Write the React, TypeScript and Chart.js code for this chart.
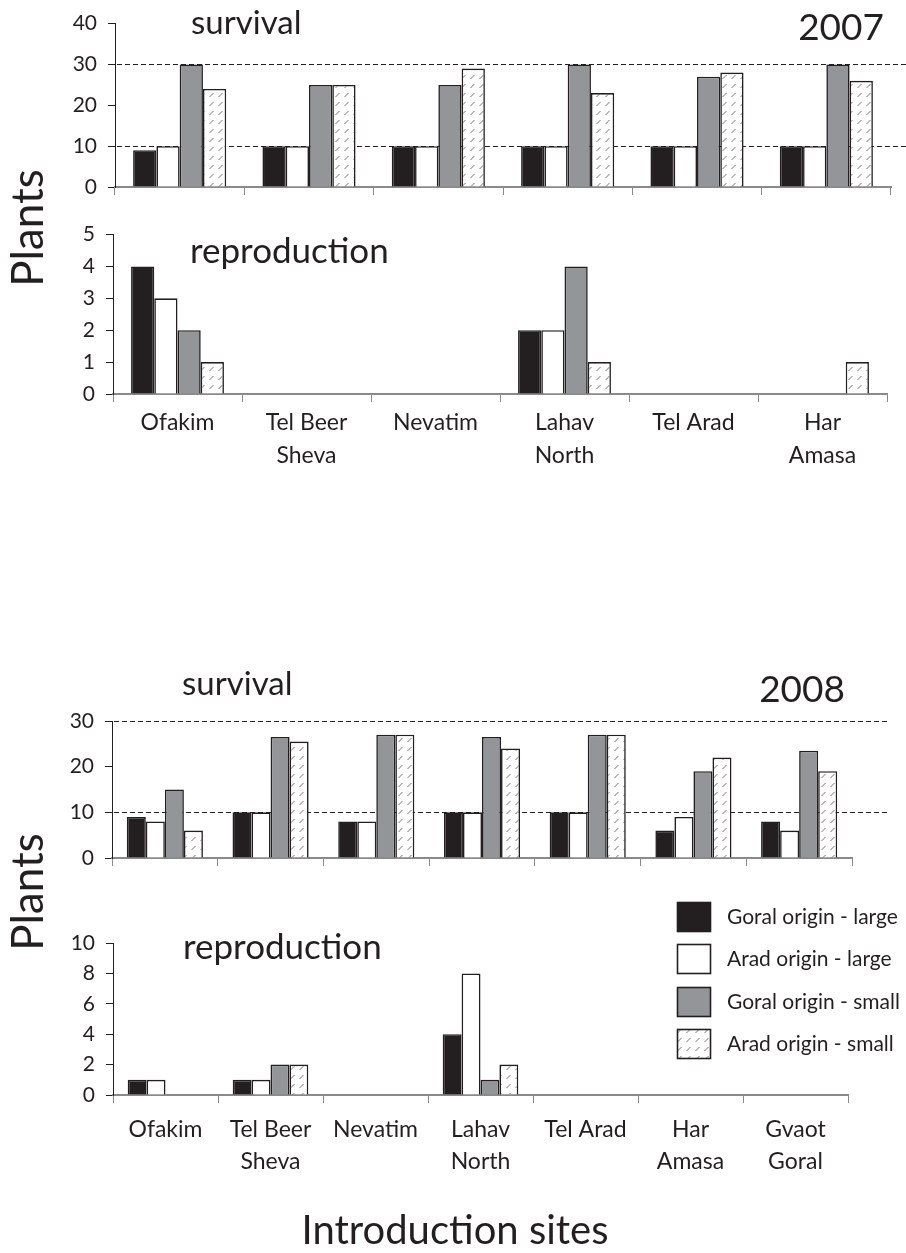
import React, { useEffect, useRef } from "react";
import { Chart, registerables } from "chart.js";
Chart.register(...registerables);

// ---------- data ----------
const sites2007: (string | string[])[] = ["Ofakim", ["Tel Beer", "Sheva"], "Nevatim", ["Lahav", "North"], "Tel Arad", ["Har", "Amasa"]];
const sites2008: (string | string[])[] = ["Ofakim", ["Tel Beer", "Sheva"], "Nevatim", ["Lahav", "North"], "Tel Arad", ["Har", "Amasa"], ["Gvaot", "Goral"]];
const seriesNames = ["Goral origin - large", "Arad origin - large", "Goral origin - small", "Arad origin - small"];

const surv2007GoralLarge = [9, 10, 10, 10, 10, 10];
const surv2007AradLarge = [10, 10, 10, 10, 10, 10];
const surv2007GoralSmall = [30, 25, 25, 30, 27, 30];
const surv2007AradSmall = [24, 25, 29, 23, 28, 26];

const repr2007GoralLarge = [4, 0, 0, 2, 0, 0];
const repr2007AradLarge = [3, 0, 0, 2, 0, 0];
const repr2007GoralSmall = [2, 0, 0, 4, 0, 0];
const repr2007AradSmall = [1, 0, 0, 1, 0, 1];

const surv2008GoralLarge = [9, 10, 8, 10, 10, 6, 8];
const surv2008AradLarge = [8, 10, 8, 10, 10, 9, 6];
const surv2008GoralSmall = [15, 26.5, 27, 26.5, 27, 19, 23.5];
const surv2008AradSmall = [6, 25.5, 27, 24, 27, 22, 19];

const repr2008GoralLarge = [1, 1, 0, 4, 0, 0, 0];
const repr2008AradLarge = [1, 1, 0, 8, 0, 0, 0];
const repr2008GoralSmall = [0, 2, 0, 1, 0, 0, 0];
const repr2008AradSmall = [0, 2, 0, 2, 0, 0, 0];

const refLineValues = [10, 30];

// ---------- styles ----------
const FONT = "Lato, 'Open Sans', sans-serif";
const INK = "#231f20";
const GRAY = "#939598";
const AXIS_GRAY = "#8a8a8a";
const HATCH_INK = "#777777";

function makeHatch(): CanvasPattern | string {
  const c = document.createElement("canvas");
  c.width = 9;
  c.height = 9;
  const g = c.getContext("2d");
  if (!g) return "#fff";
  g.fillStyle = "#fff";
  g.fillRect(0, 0, 9, 9);
  g.strokeStyle = HATCH_INK;
  g.lineWidth = 1;
  g.beginPath();
  g.moveTo(2.5, 7);
  g.lineTo(6.5, 3);
  g.stroke();
  return g.createPattern(c, "repeat") || "#fff";
}

type PanelSpec = {
  top: number;
  height: number;
  padTop: number;
  padRight: number;
  yWidth: number;
  xHeight: number;
  labels: (string | string[])[];
  showLabels: boolean;
  labelPad: number;
  labelLineHeight: number;
  max: number;
  step: number;
  series: number[][];
  refLines: number[];
  refRight: number;
};

function refLinesPlugin(values: number[], rightX: number) {
  return {
    id: "refLines",
    beforeDatasetsDraw(chart: any) {
      const { ctx, chartArea, scales } = chart;
      if (!values.length) return;
      ctx.save();
      ctx.strokeStyle = INK;
      ctx.lineWidth = 1.2;
      ctx.setLineDash([5, 3]);
      values.forEach((v) => {
        const y = Math.round(scales.y.getPixelForValue(v)) + 0.5;
        ctx.beginPath();
        ctx.moveTo(chartArea.left + 2, y);
        ctx.lineTo(rightX, y);
        ctx.stroke();
      });
      ctx.restore();
    },
  };
}

function Panel({ spec }: { spec: PanelSpec }) {
  const ref = useRef<HTMLCanvasElement | null>(null);
  useEffect(() => {
    if (!ref.current) return;
    const hatch = makeHatch();
    const fills = [INK, "#ffffff", GRAY, hatch];
    const chart = new Chart(ref.current, {
      type: "bar",
      data: {
        labels: spec.labels as any,
        datasets: spec.series.map((d, i) => ({
          label: seriesNames[i],
          data: d,
          backgroundColor: fills[i] as any,
          borderColor: INK,
          borderWidth: 1.6,
          barPercentage: 1,
          categoryPercentage: 0.72,
        })),
      },
      options: {
        responsive: false,
        maintainAspectRatio: false,
        animation: false,
        events: [],
        layout: { padding: { top: spec.padTop, right: spec.padRight, bottom: 0, left: 0 } },
        plugins: { legend: { display: false }, tooltip: { enabled: false }, title: { display: false } },
        scales: {
          x: {
            offset: true,
            grid: { offset: true, drawOnChartArea: false, drawTicks: true, tickLength: 8, color: AXIS_GRAY, lineWidth: 1 },
            border: { display: true, color: AXIS_GRAY, width: 2 },
            ticks: {
              display: spec.showLabels,
              padding: spec.labelPad,
              color: INK,
              maxRotation: 0,
              autoSkip: false,
              font: { family: FONT, size: 23, lineHeight: spec.labelLineHeight },
            },
            afterFit: (s: any) => {
              s.height = spec.xHeight;
            },
          },
          y: {
            min: 0,
            max: spec.max,
            grid: { drawOnChartArea: false, drawTicks: true, tickLength: 7, color: INK, lineWidth: 1 },
            border: { display: true, color: INK, width: 1 },
            ticks: { stepSize: spec.step, padding: 11, color: INK, font: { family: FONT, size: 21 } },
            afterFit: (s: any) => {
              s.width = spec.yWidth;
            },
          },
        },
      },
      plugins: [refLinesPlugin(spec.refLines, spec.refRight)],
    });
    return () => chart.destroy();
  }, [spec]);
  return (
    <canvas
      ref={ref}
      width={906}
      height={spec.height}
      style={{ position: "absolute", left: 0, top: spec.top, width: 906, height: spec.height }}
    />
  );
}

// The y-axis adds (label half-height + tick padding) ≈ 24px of bottom room,
// so the non-labelled x axes are given that height.
const panels: PanelSpec[] = [
  {
    top: 0, height: 211, padTop: 23, padRight: 15, yWidth: 115, xHeight: 24,
    labels: sites2007, showLabels: false, labelPad: 0, labelLineHeight: 1.38, max: 40, step: 10,
    series: [surv2007GoralLarge, surv2007AradLarge, surv2007GoralSmall, surv2007AradSmall],
    refLines: refLineValues, refRight: 906,
  },
  {
    top: 211, height: 279, padTop: 23, padRight: 19, yWidth: 113, xHeight: 96,
    labels: sites2007, showLabels: true, labelPad: 4, labelLineHeight: 1.45, max: 5, step: 1,
    series: [repr2007GoralLarge, repr2007AradLarge, repr2007GoralSmall, repr2007AradSmall],
    refLines: [], refRight: 0,
  },
  {
    top: 690, height: 192, padTop: 31, padRight: 54, yWidth: 112, xHeight: 24,
    labels: sites2008, showLabels: false, labelPad: 0, labelLineHeight: 1.38, max: 30, step: 10,
    series: [surv2008GoralLarge, surv2008AradLarge, surv2008GoralSmall, surv2008AradSmall],
    refLines: refLineValues, refRight: 888,
  },
  {
    top: 910, height: 280, padTop: 33, padRight: 58, yWidth: 113, xHeight: 95,
    labels: sites2008, showLabels: true, labelPad: 11, labelLineHeight: 1.38, max: 10, step: 2,
    series: [repr2008GoralLarge, repr2008AradLarge, repr2008GoralSmall, repr2008AradSmall],
    refLines: [], refRight: 0,
  },
];

const legendFills = [INK, "#ffffff", GRAY, "url(#hatchPat)"];
const legendTops = [902, 944, 987, 1029];

export default function App() {
  return (
    <div
      style={{ position: "absolute", left: 0, top: 0, width: 906, height: 1253, overflow: "hidden", background: "#fff" }}
    >
      {panels.map((p, i) => (
        <Panel key={i} spec={p} />
      ))}
      <svg
        width={906}
        height={1253}
        style={{ position: "absolute", left: 0, top: 0, pointerEvents: "none" }}
        fontFamily={FONT}
        fill={INK}
      >
        <defs>
          <pattern id="hatchPat" width="9" height="9" patternUnits="userSpaceOnUse">
            <rect width="9" height="9" fill="#fff" />
            <path d="M2.5 7 L6.5 3" stroke={HATCH_INK} strokeWidth="1" />
          </pattern>
        </defs>
        <text x={191} y={34} fontSize={33}>survival</text>
        <text x={884} y={40} fontSize={37} textAnchor="end">2007</text>
        <text x={190} y={263} fontSize={35}>reproduction</text>
        <text x={182} y={695} fontSize={33}>survival</text>
        <text x={845} y={702} fontSize={37} textAnchor="end">2008</text>
        <text x={183} y={959} fontSize={35}>reproduction</text>
        <text transform="translate(43,228) rotate(-90)" fontSize={44} textAnchor="middle">Plants</text>
        <text transform="translate(43,892) rotate(-90)" fontSize={44} textAnchor="middle">Plants</text>
        <text x={455} y={1244} fontSize={40} textAnchor="middle">Introduction sites</text>
        {seriesNames.map((name, i) => (
          <g key={name}>
            <rect
              x={677.5}
              y={legendTops[i] + 0.5}
              width={33}
              height={29}
              fill={legendFills[i]}
              stroke={INK}
              strokeWidth={1.6}
            />
            <text x={727} y={legendTops[i] + 22} fontSize={21}>{name}</text>
          </g>
        ))}
      </svg>
    </div>
  );
}
